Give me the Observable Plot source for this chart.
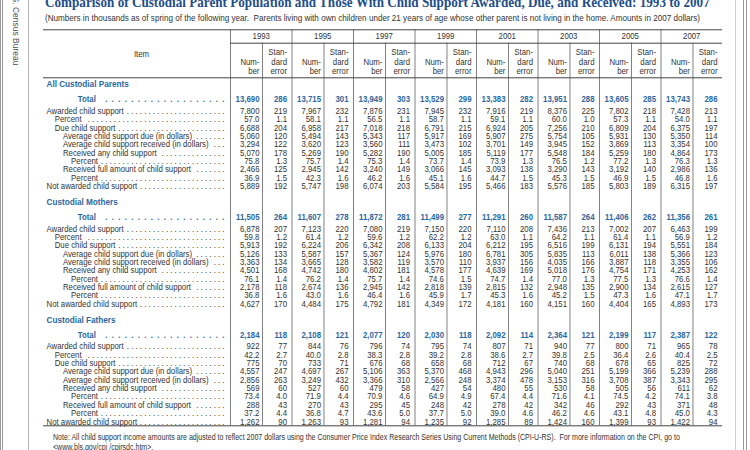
<!DOCTYPE html>
<html><head><meta charset="utf-8">
<script src="https://cdn.jsdelivr.net/npm/d3@7"></script>
<script src="https://cdn.jsdelivr.net/npm/@observablehq/plot@0.6"></script>
<style>
html,body{margin:0;padding:0;background:#fff;}
#page{position:relative;width:750px;height:450px;overflow:hidden;font-family:"Liberation Sans",Arial,sans-serif;background:#fff;}
#chart{position:absolute;left:0;top:0;}
.t{position:absolute;white-space:pre;transform-origin:0 0;}
.vl{position:absolute;top:0;width:1px;height:450px;}
</style></head><body>
<div id="page">
  <div id="chart"></div>
  <div class="vl" style="left:0px;background:#9a9a9a"></div>
  <div class="vl" style="left:2px;background:#9a9a9a"></div>
  <div class="vl" style="left:28px;background:#b5b5b5"></div>
  <div class="vl" style="left:735px;background:#cfcfcf"></div>
  <div class="vl" style="left:743px;background:#9a9a9a"></div>
  <div class="vl" style="left:746px;background:#9a9a9a"></div>
  <div class="t" id="side" style="writing-mode:vertical-rl;left:10.5px;top:-12px;font-size:8.5px;line-height:9px;color:#555">U.S. Census Bureau</div>
  <div class="t" id="title" style="left:45px;top:-4.6px;font:bold 15px 'Liberation Serif',serif;line-height:15px;color:#1f4e8a">Comparison of Custodial Parent Population and Those With Child Support Awarded, Due, and Received: 1993 to 2007</div>
  <div class="t" id="subtitle" style="left:45px;top:14px;font-size:8.8px;line-height:8.8px;color:#333">(Numbers in thousands as of spring of the following year.  Parents living with own children under 21 years of age whose other parent is not living in the home. Amounts in 2007 dollars)</div>
  <div class="t" id="note1" style="left:53px;top:432.6px;font-size:8.4px;line-height:8.4px;color:#333">Note: All child support income amounts are adjusted to reflect 2007 dollars using the Consumer Price Index Research Series Using Current Methods (CPI-U-RS).  For more information on the CPI, go to</div>
  <div class="t" id="note2" style="left:53px;top:442.6px;font-size:8.4px;line-height:8.4px;color:#333">&lt;www.bls.gov/cpi /cpirsdc.htm&gt;.</div>
</div>
<script>
// ---------------- DATA ----------------
const years = ["1993","1995","1997","1999","2001","2003","2005","2007"];
const sections = ["All Custodial Parents","Custodial Mothers","Custodial Fathers"];
const items = ["Total","Awarded child support","Percent","Due child support",
  "Average child support due (in dollars)","Average child support received (in dollars)",
  "Received any child support","Percent","Received full amount of child support","Percent",
  "Not awarded child support"];
const itemLevels = [null,0,1,1,2,2,2,3,2,3,0];

// rows = items, columns = years
const parentsNumber = [
  [13690,13715,13949,13529,13383,13951,13605,13743],
  [7800,7967,7876,7945,7916,8376,7802,7428],
  [57.0,58.1,56.5,58.7,59.1,60.0,57.3,54.0],
  [6688,6958,7018,6791,6924,7256,6809,6375],
  [5060,5494,5343,5917,5907,5754,5931,5350],
  [3294,3620,3560,3473,3701,3945,3869,3354],
  [5070,5269,5282,5005,5119,5548,5259,4864],
  [75.8,75.7,75.3,73.7,73.9,76.5,77.2,76.3],
  [2466,2945,3240,3066,3093,3290,3192,2986],
  [36.9,42.3,46.2,45.1,44.7,45.3,46.9,46.8],
  [5889,5747,6074,5584,5466,5576,5803,6315]];
const parentsSE = [
  [286,301,303,299,282,288,285,286],
  [219,232,231,232,219,225,218,213],
  [1.1,1.1,1.1,1.1,1.1,1.0,1.1,1.1],
  [204,217,218,215,205,210,204,197],
  [120,143,117,169,275,105,130,114],
  [122,123,111,102,149,152,113,100],
  [178,190,190,185,177,184,180,173],
  [1.3,1.4,1.4,1.4,1.3,1.2,1.3,1.3],
  [125,142,149,145,138,143,140,136],
  [1.5,1.6,1.6,1.6,1.5,1.5,1.5,1.6],
  [192,198,203,195,183,185,189,197]];
const mothersNumber = [
  [11505,11607,11872,11499,11291,11587,11406,11356],
  [6878,7123,7080,7150,7110,7436,7002,6463],
  [59.8,61.4,59.6,62.2,63.0,64.2,61.4,56.9],
  [5913,6224,6342,6133,6212,6516,6131,5551],
  [5126,5587,5367,5976,6781,5835,6011,5366],
  [3363,3665,3582,3570,3937,4035,3887,3355],
  [4501,4742,4802,4578,4639,5018,4754,4253],
  [76.1,76.2,75.7,74.6,74.7,77.0,77.5,76.6],
  [2178,2674,2945,2818,2815,2948,2900,2615],
  [36.8,43.0,46.4,45.9,45.3,45.2,47.3,47.1],
  [4627,4484,4792,4349,4181,4151,4404,4893]];
const mothersSE = [
  [264,278,281,277,260,264,262,261],
  [207,220,219,220,208,213,207,199],
  [1.2,1.2,1.2,1.2,1.1,1.1,1.1,1.2],
  [192,206,208,204,195,199,194,184],
  [133,157,124,180,305,113,138,123],
  [134,128,119,110,156,166,118,106],
  [168,180,181,177,169,176,171,162],
  [1.4,1.4,1.4,1.5,1.4,1.3,1.3,1.4],
  [118,136,142,139,132,135,134,127],
  [1.6,1.6,1.6,1.7,1.6,1.5,1.6,1.7],
  [170,175,181,172,160,160,165,173]];
const fathersNumber = [
  [2184,2108,2077,2030,2092,2364,2199,2387],
  [922,844,796,795,807,940,800,965],
  [42.2,40.0,38.3,39.2,38.6,39.8,36.4,40.4],
  [775,733,676,658,712,740,678,825],
  [4557,4697,5106,5370,4943,5040,5199,5239],
  [2856,3249,3366,2566,3374,3153,3708,3343],
  [569,527,479,427,480,530,505,611],
  [73.4,71.9,70.9,64.9,67.4,71.6,74.5,74.1],
  [288,270,295,248,278,342,292,371],
  [37.2,36.8,43.6,37.7,39.0,46.2,43.1,45.0],
  [1262,1263,1281,1235,1285,1424,1399,1422]];
const fathersSE = [
  [118,121,120,118,114,121,117,122],
  [77,76,74,74,71,77,71,78],
  [2.7,2.8,2.8,2.8,2.7,2.5,2.6,2.5],
  [70,71,68,68,67,68,65,72],
  [247,267,363,468,296,251,366,288],
  [263,432,310,248,478,316,387,295],
  [60,60,58,54,55,58,56,62],
  [4.0,4.4,4.6,4.9,4.4,4.1,4.2,3.8],
  [43,43,45,42,42,46,43,48],
  [4.4,4.7,5.0,5.0,4.6,4.6,4.8,4.3],
  [90,93,94,92,89,160,93,94]];

const numberTables = [parentsNumber, mothersNumber, fathersNumber];
const seTables = [parentsSE, mothersSE, fathersSE];

// ---------------- LAYOUT ----------------
const X0 = 230, X1 = 722;            // year columns span
const Y0 = 84, U = 8.35;             // first section header, row pitch
const NSPLIT = 0.52;                 // Number | SE divider within a year
const COND = 0.93;                   // narrow-face emulation
const FS = 8.4;
const ux = px => (px - X0) * years.length / (X1 - X0);
const uy = px => (px - Y0) / U;
const SECTION_STEP = 14.1, TOTAL_OFF = 1.8, ITEM_OFF = 3.2;
const rowY = (s, i) => s * SECTION_STEP + (i === 0 ? TOTAL_OFF : ITEM_OFF + (i - 1));
const TABLE_LEFT = 43, LABEL_LEFT = 46, INDENT = 8.2, TOTAL_LEFT = 77.3, DOTS_END = 224;
const BLUE = "#2b67a0", INK = "#333";

const fmt = (v, i) => items[i] === "Percent" ? v.toFixed(1) : d3.format(",")(v);

// measure text for dot leaders
const ctx = document.createElement("canvas").getContext("2d");
const measure = (s, weight) => { ctx.font = `${weight} ${FS}px "Liberation Sans"`; return ctx.measureText(s).width * COND; };
const dotW = measure(". ", 400);
const dotWB = measure(".\u00A0 ", 700);
const dotOne = measure(".", 400);

// cells
const cellsN = [], cellsSE = [], totN = [], totSE = [];
sections.forEach((sec, s) => {
  items.forEach((it, i) => {
    years.forEach((yr, j) => {
      const a = {x: j + NSPLIT, y: rowY(s, i), text: fmt(numberTables[s][i][j], i)};
      const b = {x: j + 1, y: rowY(s, i), text: fmt(seTables[s][i][j], i)};
      if (i === 0) { totN.push(a); totSE.push(b); } else { cellsN.push(a); cellsSE.push(b); }
    });
  });
});

// labels
const secLabels = sections.map((sec, s) => ({x: ux(LABEL_LEFT), y: s * SECTION_STEP, text: sec}));
const itemLabels = [], dots = [], totalLabels = [], totalDots = [];
sections.forEach((sec, s) => {
  items.forEach((it, i) => {
    const y = rowY(s, i);
    if (i === 0) {
      const start = TOTAL_LEFT, w = measure(it, 700);
      const n = Math.floor((DOTS_END - start - w - 5 - dotOne) / dotWB) + 1;
      totalLabels.push({x: ux(start), y, text: it});
      totalDots.push({x: ux(DOTS_END), y, text: Array(n).fill(".").join("\u00A0 ")});
    } else {
      const start = LABEL_LEFT + itemLevels[i] * INDENT, w = measure(it, 400);
      const n = Math.floor((DOTS_END - start - w - 2.5 - dotOne) / dotW) + 1;
      itemLabels.push({x: ux(start), y, text: it});
      dots.push({x: ux(DOTS_END), y, text: Array(n).fill(".").join(" ")});
    }
  });
});

// header
const H = {top: uy(29.3), year: uy(35.5), yearRule: uy(42.7), l1: uy(52), l2: uy(61.5), l3: uy(71), item: uy(53.5), bottom: uy(77.3), end: uy(425.3)};
const yearHead = years.map((yr, j) => ({x: j + 0.5, y: H.year, text: yr}));
const subHeadN = years.flatMap((yr, j) => [{x: j + NSPLIT, y: H.l2, text: "Num-"}, {x: j + NSPLIT, y: H.l3, text: "ber"}]);
const subHeadSE = years.flatMap((yr, j) => [{x: j + 1, y: H.l1, text: "Stan-"}, {x: j + 1, y: H.l2, text: "dard"}, {x: j + 1, y: H.l3, text: "error"}]);
const groupLines = years.map((yr, j) => ({x: j}));
const splitLines = years.map((yr, j) => ({x: j + NSPLIT}));
const hLines = [
  {y: H.top, x1: ux(TABLE_LEFT), x2: years.length},
  {y: H.yearRule, x1: 0, x2: years.length},
  {y: H.bottom, x1: ux(TABLE_LEFT), x2: years.length},
  {y: H.end, x1: ux(TABLE_LEFT), x2: years.length}];

const txt = (data, o) => Plot.text(data, {x: "x", y: "y", text: "text", fontSize: FS, fill: INK, ...o});

const svg = Plot.plot({
  width: 750, height: 450,
  marginTop: 0, marginRight: 0, marginBottom: 0, marginLeft: 0,
  style: {fontFamily: "'Liberation Sans', Arial, sans-serif", fontSize: FS + "px", background: "transparent", overflow: "visible"},
  x: {type: "linear", domain: [0, years.length], range: [X0, X1], axis: null},
  y: {type: "linear", domain: [0, 1], range: [Y0, Y0 + U], axis: null},
  marks: [
    Plot.ruleX(groupLines, {x: "x", y1: H.top, y2: H.end, stroke: "#808080", strokeWidth: 1}),
    Plot.ruleX(splitLines, {x: "x", y1: H.yearRule, y2: H.end, stroke: "#808080", strokeWidth: 1}),
    Plot.ruleY(hLines, {y: "y", x1: "x1", x2: "x2", stroke: "#444", strokeWidth: 1}),
    txt(yearHead, {}),
    txt(subHeadN, {textAnchor: "end", dx: -3}),
    txt(subHeadSE, {textAnchor: "end", dx: -5}),
    txt([{x: ux(141), y: H.item, text: "Item"}], {}),
    txt(secLabels, {textAnchor: "start", fontWeight: "bold", fill: BLUE, fontSize: 8.8}),
    txt(itemLabels, {textAnchor: "start"}),
    txt(dots, {textAnchor: "end"}),
    txt(totalLabels, {textAnchor: "start", fontWeight: "bold", fill: BLUE}),
    txt(totalDots, {textAnchor: "end", fontWeight: "bold", fill: BLUE}),
    txt(cellsN, {textAnchor: "end", dx: -3}),
    txt(cellsSE, {textAnchor: "end", dx: -5}),
    txt(totN, {textAnchor: "end", dx: -3, fontWeight: "bold", fill: BLUE}),
    txt(totSE, {textAnchor: "end", dx: -5, fontWeight: "bold", fill: BLUE})
  ]
});
svg.querySelectorAll("text").forEach(t => {
  const tr = t.getAttribute("transform") || "";
  t.setAttribute("transform", tr + ` scale(${COND},1)`);
});
document.getElementById("chart").appendChild(svg);

// fit HTML text widths to the reference
function fit(id, target, ref) {
  const el = document.getElementById(id);
  const k = ref != null ? ref : target / el.offsetWidth;
  el.style.transform = `scaleX(${k})`;
  return k;
}
fit("title", 665);
fit("subtitle", 655);
const kn = fit("note1", 627);
fit("note2", null, kn);
</script>
</body></html>
